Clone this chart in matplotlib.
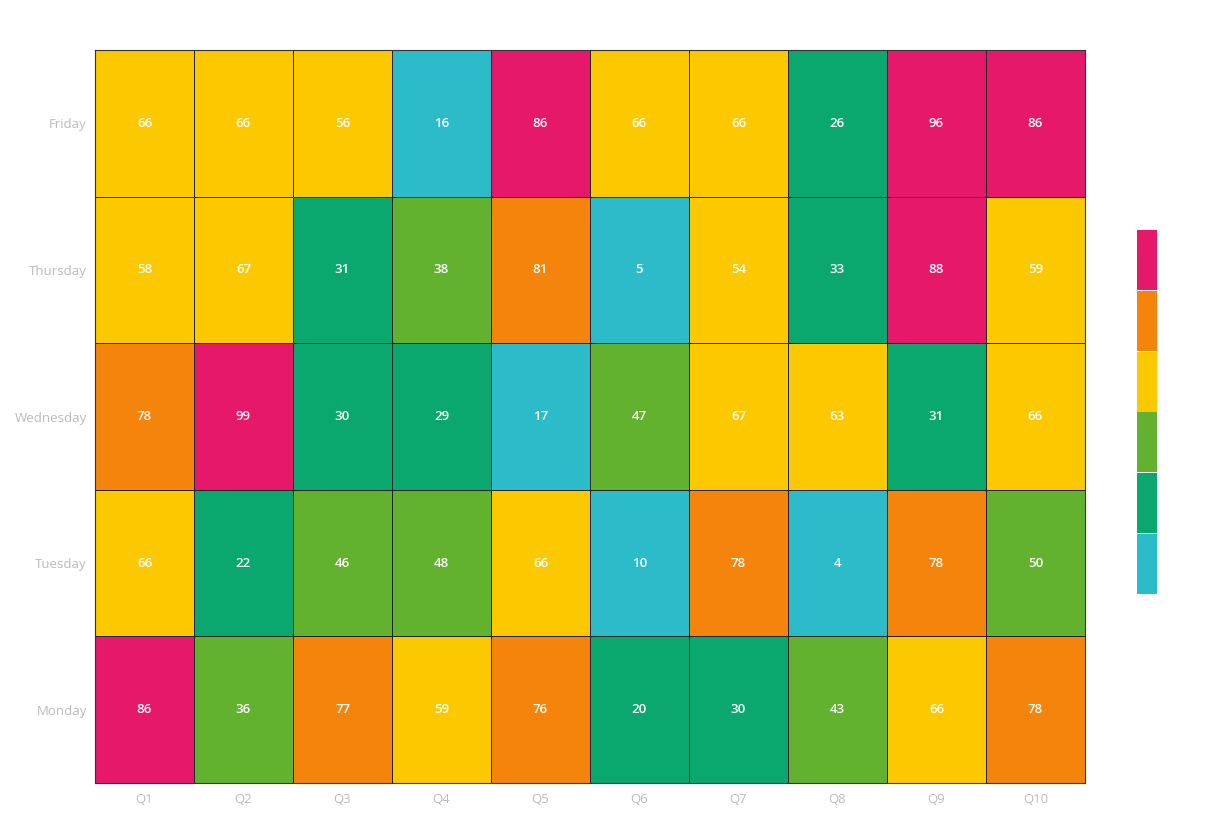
import matplotlib
matplotlib.use("Agg")
from matplotlib import pyplot as plt
from matplotlib.colors import ListedColormap, BoundaryNorm
import numpy as np

plt.rcParams['font.family'] = ['Open Sans', 'DejaVu Sans']

# Heatmap of values per day and quarter
quarters = ["Q1", "Q2", "Q3", "Q4", "Q5", "Q6", "Q7", "Q8", "Q9", "Q10"]
days = ["Monday", "Tuesday", "Wednesday", "Thursday", "Friday"]
monday = [86, 36, 77, 59, 76, 20, 30, 43, 66, 78]
tuesday = [66, 22, 46, 48, 66, 10, 78, 4, 78, 50]
wednesday = [78, 99, 30, 29, 17, 47, 67, 63, 31, 66]
thursday = [58, 67, 31, 38, 81, 5, 54, 33, 88, 59]
friday = [66, 66, 56, 16, 86, 66, 66, 26, 96, 86]
palette = ['#2CBBC9', '#0AA86E', '#63B22F', '#FCC800', '#F5840C', '#E6186A']

values = np.array([monday, tuesday, wednesday, thursday, friday])
vmin, vmax = values.min(), values.max()
bounds = np.linspace(vmin, vmax, len(palette) + 1)
cmap = ListedColormap(palette)
norm = BoundaryNorm(bounds, cmap.N, clip=True)

fig = plt.figure(figsize=(12.05, 8.23), dpi=100)
ax = fig.add_axes([95 / 1205, 1 - 783 / 823, 990 / 1205, 733 / 823])
ax.pcolormesh(values, cmap=cmap, norm=norm, edgecolors='#222222', linewidth=0.5)
ax.set_xlim(0, len(quarters))
ax.set_ylim(0, len(days))
for i in range(len(days)):
    for j in range(len(quarters)):
        ax.text(j + 0.5, i + 0.5, str(values[i, j]), ha='center', va='center',
                color='white', fontsize=9.5, fontweight='semibold')

ax.set_xticks(np.arange(len(quarters)) + 0.5)
ax.set_xticklabels(quarters)
ax.set_yticks(np.arange(len(days)) + 0.5)
ax.set_yticklabels(days)
ax.tick_params(length=0, colors='#bbbbbb', labelsize=9.5)
ax.tick_params(axis='y', pad=6)
ax.tick_params(axis='x', pad=7)
for s in ax.spines.values():
    s.set_color('#333333')
    s.set_linewidth(0.8)

# piecewise legend on the right
lax = fig.add_axes([1137 / 1205, 1 - 594 / 823, 20 / 1205, 365 / 823])
lax.bar(np.zeros(len(palette)), np.ones(len(palette)) * 0.985, bottom=np.arange(len(palette)),
        width=1, color=palette, align='edge')
lax.set_xlim(0, 1)
lax.set_ylim(0, len(palette))
lax.axis('off')

plt.savefig('out.png', dpi=100)
